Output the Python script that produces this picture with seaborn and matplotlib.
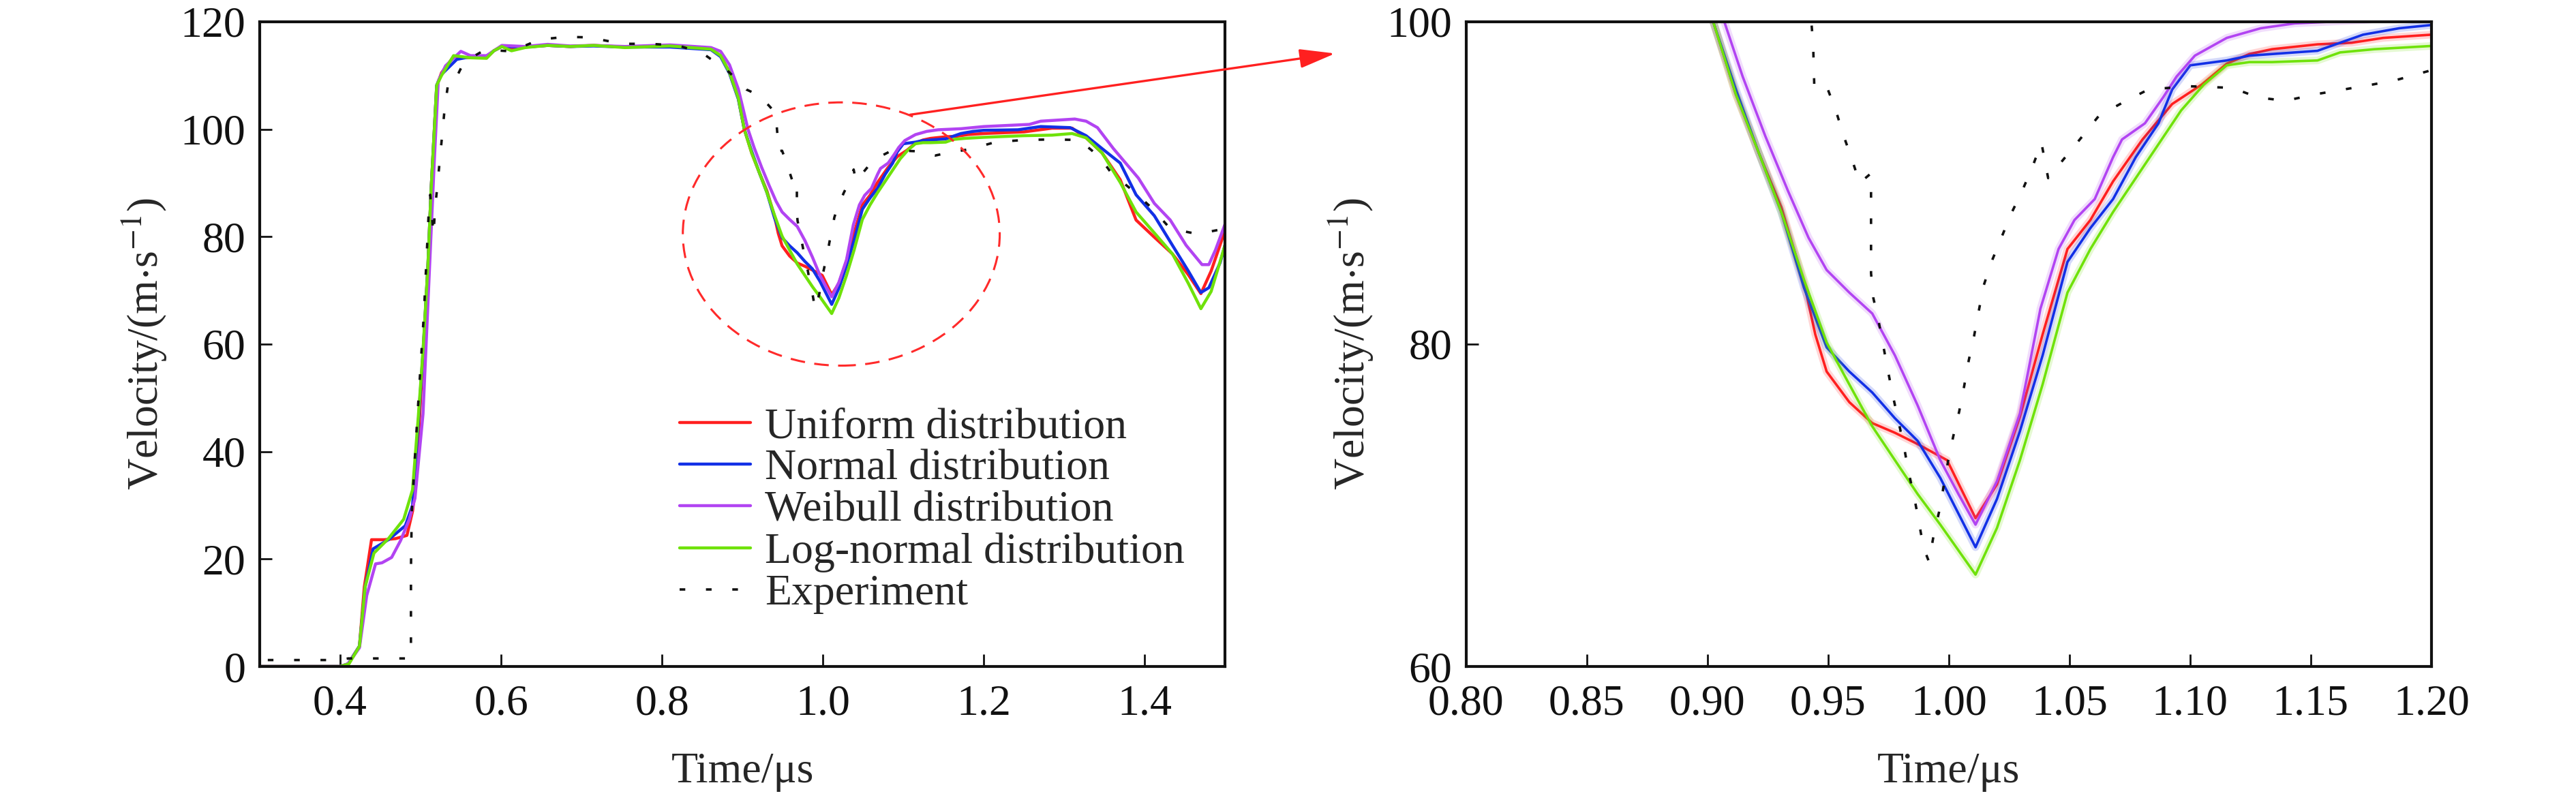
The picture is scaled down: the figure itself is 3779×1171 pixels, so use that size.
import matplotlib
matplotlib.use('Agg')
import matplotlib.pyplot as plt
import seaborn as sns
from matplotlib.patches import Ellipse

sns.set_style('ticks')
plt.rcParams['font.family'] = ['Liberation Serif', 'DejaVu Serif']
plt.rcParams['mathtext.fontset'] = 'stix'

# ---- data (time in us, velocity in m/s) ----
t_uniform = [0.30, 0.40, 0.41, 0.424, 0.430, 0.439, 0.455, 0.469, 0.483, 0.490, 0.494, 0.503, 0.509,
             0.513, 0.520, 0.526, 0.541, 0.562, 0.582, 0.591, 0.601, 0.613, 0.630, 0.658, 0.686, 0.715,
             0.754, 0.81, 0.861, 0.873, 0.884, 0.895, 0.9024, 0.9118, 0.9212, 0.9306, 0.940, 0.9447,
             0.9494, 0.9588, 0.9683, 0.9777, 0.9871, 0.9993, 1.0111, 1.020, 1.0295, 1.0389, 1.0492,
             1.0587, 1.0681, 1.0803, 1.0926, 1.1048, 1.1152, 1.1246, 1.134, 1.1528, 1.167, 1.18, 1.20,
             1.25, 1.285, 1.31, 1.3274, 1.3472, 1.3698, 1.3895, 1.4122, 1.4347, 1.4545, 1.4701, 1.4828, 1.50]
v_uniform = [0, 0, 0.5, 3.8, 14.8, 23.6, 23.6, 23.8, 24.4, 28.9, 33.7, 58.0, 74.0,
             88.5, 108.0, 110.5, 113.5, 113.3, 113.3, 114.6, 115.4, 114.8, 115.3, 115.6, 115.4, 115.6,
             115.3, 115.5, 114.9, 113.7, 110.6, 105.8, 100.0, 95.5, 91.9, 88.5, 83.8, 80.6,
             78.3, 76.4, 75.1, 74.5, 73.8, 72.8, 69.2, 71.3, 75.5, 80.6, 85.9,
             87.7, 90.1, 92.7, 94.9, 96.1, 97.4, 98.0, 98.3, 98.6, 98.7, 99.0, 99.2,
             99.5, 100.2, 100.2, 98.4, 95.6, 90.6, 83.1, 79.9, 76.8, 72.9, 69.4, 73.6, 81.1]

t_normal = [0.30, 0.40, 0.41, 0.424, 0.431, 0.441, 0.460, 0.481, 0.490, 0.497, 0.503, 0.509, 0.513,
            0.520, 0.526, 0.545, 0.562, 0.582, 0.591, 0.601, 0.630, 0.658, 0.686, 0.715, 0.754, 0.81,
            0.861, 0.873, 0.884, 0.895, 0.9024, 0.9118, 0.9212, 0.9306, 0.940, 0.9494, 0.9588, 0.9683,
            0.9777, 0.9871, 0.9965, 1.0111, 1.020, 1.0295, 1.0389, 1.0492, 1.0587, 1.0681, 1.0775,
            1.0869, 1.0926, 1.1001, 1.1152, 1.1246, 1.134, 1.1528, 1.1622, 1.1717, 1.1867, 1.20,
            1.2427, 1.271, 1.3076, 1.3274, 1.3472, 1.3698, 1.3895, 1.4122, 1.4347, 1.4545, 1.4701,
            1.48, 1.4941, 1.50]
v_normal = [0, 0, 0.5, 3.8, 14.8, 21.9, 23.6, 26.2, 30.0, 45.0, 58.5, 74.2, 88.5,
            108.2, 110.2, 113.0, 113.5, 113.5, 114.6, 115.4, 115.3, 115.6, 115.4, 115.5, 115.3, 115.3,
            114.8, 113.5, 110.4, 105.6, 100.0, 95.8, 91.9, 88.2, 83.5, 79.8, 78.3, 77.0,
            75.4, 74.0, 71.7, 67.4, 70.4, 74.6, 79.3, 85.1, 87.2, 89.0, 91.6,
            93.7, 95.8, 97.3, 97.6, 97.9, 98.0, 98.2, 98.7, 99.2, 99.6, 99.8,
            99.9, 100.5, 100.3, 98.8, 96.4, 93.7, 87.8, 83.9, 78.4, 73.6, 69.6,
            70.5, 75.2, 78.4]

t_weibull = [0.30, 0.40, 0.41, 0.424, 0.433, 0.444, 0.452, 0.464, 0.475, 0.486, 0.493, 0.503, 0.510,
             0.517, 0.522, 0.531, 0.550, 0.562, 0.582, 0.601, 0.630, 0.658, 0.686, 0.715, 0.754, 0.81,
             0.861, 0.873, 0.884, 0.895, 0.907, 0.9146, 0.924, 0.9334, 0.9419, 0.9494, 0.9588, 0.9683,
             0.9777, 0.9871, 0.9965, 1.004, 1.0111, 1.020, 1.0295, 1.038, 1.0455, 1.0521, 1.0605,
             1.0681, 1.0718, 1.0813, 1.0888, 1.0944, 1.102, 1.1152, 1.1293, 1.1434, 1.172, 1.2003,
             1.2285, 1.2568, 1.271, 1.3133, 1.3274, 1.3415, 1.3613, 1.3924, 1.4122, 1.432, 1.4517,
             1.4715, 1.48, 1.4884, 1.50]
v_weibull = [0, 0, 0.5, 3.5, 13.2, 19.1, 19.3, 20.3, 23.4, 27.4, 31.3, 47.0, 70.5,
             94.0, 109.0, 111.8, 114.5, 113.7, 113.7, 115.6, 115.4, 115.8, 115.5, 115.6, 115.4, 115.7,
             115.2, 114.5, 112.0, 107.5, 100.0, 96.6, 92.9, 89.5, 86.6, 84.6, 83.2, 81.9,
             79.3, 76.2, 72.8, 70.7, 68.8, 71.5, 75.7, 82.2, 85.9, 87.7, 89.0,
             91.6, 92.7, 93.7, 95.3, 96.6, 97.9, 99.0, 99.6, 99.9, 100.1, 100.5,
             100.7, 100.9, 101.5, 101.9, 101.5, 100.3, 96.4, 90.9, 86.2, 83.1, 78.4,
             74.8, 74.8, 77.6, 82.3]

t_lognormal = [0.30, 0.40, 0.411, 0.424, 0.431, 0.442, 0.460, 0.479, 0.490, 0.497, 0.503, 0.509, 0.513,
               0.520, 0.526, 0.541, 0.562, 0.582, 0.591, 0.601, 0.613, 0.630, 0.658, 0.686, 0.715,
               0.754, 0.81, 0.861, 0.873, 0.884, 0.895, 0.9024, 0.9118, 0.9212, 0.9306, 0.940, 0.9494,
               0.9588, 0.9683, 0.9777, 0.9871, 0.9965, 1.0111, 1.020, 1.0295, 1.0389, 1.0492, 1.0587,
               1.0681, 1.0775, 1.0869, 1.0963, 1.1057, 1.1152, 1.1246, 1.134, 1.1528, 1.1622, 1.1764,
               1.20, 1.25, 1.285, 1.31, 1.3274, 1.3472, 1.3698, 1.3895, 1.4122, 1.4347, 1.4545, 1.4701,
               1.4828, 1.50]
v_lognormal = [0, 0, 0.5, 3.8, 14.8, 21.1, 23.8, 27.4, 32.9, 46.2, 58.8, 74.4, 88.6,
               108.2, 110.0, 113.7, 113.3, 113.2, 114.6, 115.4, 114.6, 115.2, 115.6, 115.4, 115.6,
               115.2, 115.5, 114.9, 113.7, 110.6, 105.8, 100.0, 95.5, 91.9, 88.2, 84.0, 80.1,
               77.5, 74.9, 72.8, 70.7, 68.8, 65.7, 68.6, 72.8, 77.5, 83.2, 85.9,
               88.2, 90.3, 92.4, 94.5, 96.1, 97.3, 97.5, 97.5, 97.6, 98.1, 98.3,
               98.5, 98.8, 98.9, 99.2, 98.4, 95.6, 90.1, 84.6, 80.7, 76.8, 71.3, 66.6,
               69.8, 78.4]

t_exp = [0.31, 0.40, 0.41, 0.47, 0.487, 0.488, 0.488, 0.489, 0.492, 0.496, 0.500, 0.504, 0.507,
         0.510, 0.512, 0.516, 0.518, 0.521, 0.524, 0.527, 0.530, 0.534, 0.539, 0.554, 0.580, 0.613,
         0.648, 0.681, 0.709, 0.751, 0.785, 0.82, 0.851, 0.883, 0.905, 0.922, 0.9415, 0.9438, 0.9443,
         0.9494, 0.9532, 0.9565, 0.9598, 0.9631, 0.9678, 0.9678, 0.9687, 0.9711, 0.9730, 0.9750,
         0.9770, 0.9815, 0.9833, 0.9857, 0.9876, 0.9895, 0.9918, 0.9937, 0.9960, 0.9998, 1.0019,
         1.0043, 1.0064, 1.0083, 1.0105, 1.0125, 1.0144, 1.0177, 1.0218, 1.0259, 1.0304, 1.0347,
         1.0384, 1.0412, 1.0483, 1.0554, 1.0624, 1.0723, 1.0827, 1.1000, 1.1175, 1.1283, 1.1396,
         1.1519, 1.1637, 1.1754, 1.1858, 1.2144, 1.2497, 1.285, 1.319, 1.3444, 1.3585, 1.3853,
         1.4093, 1.432, 1.4658, 1.50]
v_exp = [1.2, 1.2, 1.5, 1.5, 1.5, 4.0, 18.0, 28.7, 36.6, 46.5, 56.0, 65.4, 74.8,
         84.3, 87.8, 80.3, 85.3, 89.7, 94.5, 99.2, 104.0, 108.2, 108.0, 112.5, 114.8, 114.5,
         116.7, 117.2, 117.1, 115.9, 115.9, 115.6, 114.1, 110.7, 107.4, 106.2, 103.0, 98.6, 95.9,
         96.0, 94.5, 92.9, 91.5, 90.0, 90.6, 84.4, 82.9, 81.3, 79.8, 78.2,
         76.7, 73.6, 72.1, 70.5, 69.0, 67.4, 66.5, 68.1, 69.6, 72.8, 74.3,
         75.8, 77.4, 79.0, 80.5, 82.1, 83.6, 85.1, 86.6, 88.1, 89.5, 91.0,
         92.5, 90.3, 91.6, 92.9, 94.2, 95.0, 95.8, 96.0, 95.9, 95.3, 95.1,
         95.5, 95.8, 96.1, 96.4, 97.6, 98.0, 98.1, 98.0, 94.8, 91.9, 88.6,
         85.3, 81.5, 80.5, 81.5]

labels = ['Uniform distribution', 'Normal distribution', 'Weibull distribution',
          'Log-normal distribution', 'Experiment']
colors = ['#ff1f1f', '#1230e6', '#b244f2', '#6fe20a', '#111111']
series = [(t_uniform, v_uniform), (t_normal, v_normal), (t_weibull, v_weibull),
          (t_lognormal, v_lognormal), (t_exp, v_exp)]

FS = 46
EXP_LS = (0, (2.3, 8.4))


def style_axes(ax, xlim, ylim, xticks, yticks, xfmt):
    ax.set_xlim(*xlim)
    ax.set_ylim(*ylim)
    ax.set_xticks(xticks)
    ax.set_xticklabels([xfmt.format(v) for v in xticks])
    ax.set_yticks(yticks)
    ax.tick_params(axis='both', direction='in', length=13, width=2, labelsize=FS, colors='#111111')
    ax.tick_params(axis='x', pad=19)
    ax.tick_params(axis='y', pad=15)
    for sp in ax.spines.values():
        sp.set_visible(True)
        sp.set_linewidth(3)
        sp.set_color('#111111')
    ax.set_xlabel('Time/\u03bcs', fontsize=FS, va='top')
    ax.xaxis.set_label_coords(0.5, -0.133)
    ax.set_ylabel(r'Velocity/(m$\cdot$s$^{-1}$)', fontsize=FS, va='center')
    ax.yaxis.set_label_coords(-0.119, 0.5)


fig = plt.figure(figsize=(37.8, 11.71), dpi=100, facecolor='white')
ax1 = fig.add_axes([0.1008, 0.1648, 0.3746, 0.8079])
ax2 = fig.add_axes([0.5690, 0.1648, 0.3746, 0.8079])

# left panel: full history
for (t, v), lab, c in zip(series, labels, colors):
    if lab == 'Experiment':
        sns.lineplot(x=t, y=v, ax=ax1, color=c, lw=2.6, linestyle=EXP_LS, label=lab,
                     estimator=None, sort=False)
    else:
        sns.lineplot(x=t, y=v, ax=ax1, color=c, lw=3.2, label=lab,
                     estimator=None, sort=False)

style_axes(ax1, (0.3, 1.5), (0, 120), [0.4, 0.6, 0.8, 1.0, 1.2, 1.4],
           [0, 20, 40, 60, 80, 100, 120], '{:.1f}')

leg = ax1.legend(loc='lower left', bbox_to_anchor=(0.435, 0.081), frameon=False, fontsize=FS,
                 handlelength=1.63, handletextpad=0.33, labelspacing=0.04, borderpad=0,
                 borderaxespad=0)

# zoom marker: dashed ellipse and arrow towards the right panel
ax1.add_patch(Ellipse((1.023, 80.5), 0.394, 49.0, fill=False, ec='#ff2a2a', lw=2.2,
                      ls=(0, (7, 4.5)), zorder=5))
ax1.annotate('', xy=(1.637, 114.1), xytext=(1.1085, 102.7), xycoords='data', textcoords='data',
             annotation_clip=False,
             arrowprops=dict(arrowstyle='-|>,head_length=32,head_width=8.6', mutation_scale=1,
                             color='#ff2020', lw=2.4, shrinkA=0, shrinkB=0))

# right panel: enlarged dip
for (t, v), lab, c in zip(series, labels, colors):
    if lab == 'Experiment':
        sns.lineplot(x=t, y=v, ax=ax2, color=c, lw=2.6, linestyle=EXP_LS, legend=False,
                     estimator=None, sort=False)
    else:
        sns.lineplot(x=t, y=v, ax=ax2, color=c, lw=8, alpha=0.18, legend=False,
                     estimator=None, sort=False)
        sns.lineplot(x=t, y=v, ax=ax2, color=c, lw=2.6, legend=False,
                     estimator=None, sort=False)

style_axes(ax2, (0.8, 1.2), (60, 100), [0.80, 0.85, 0.90, 0.95, 1.00, 1.05, 1.10, 1.15, 1.20],
           [60, 80, 100], '{:.2f}')

fig.savefig('out.png', dpi=100, facecolor='white')
